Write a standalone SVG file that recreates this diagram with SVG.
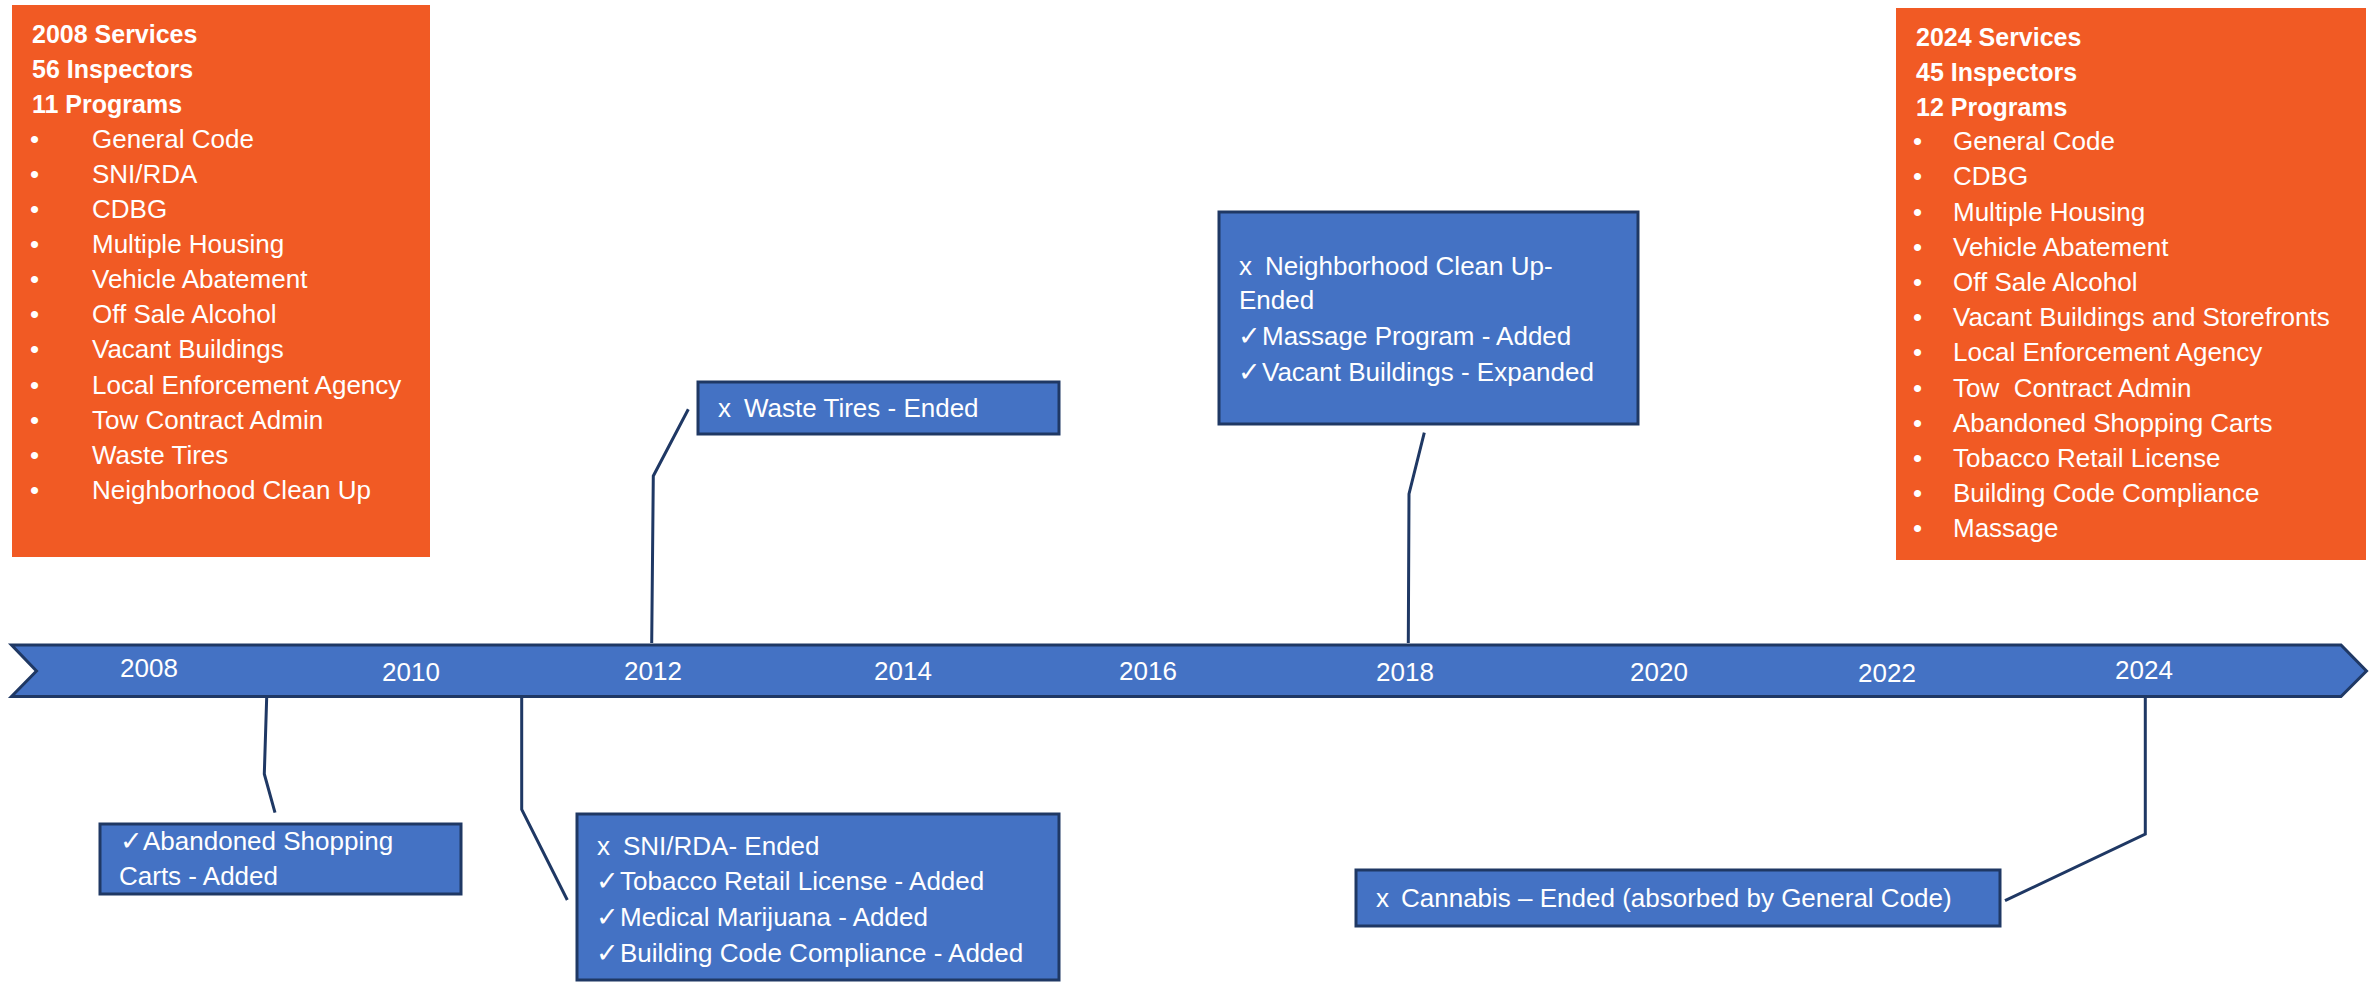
<svg xmlns="http://www.w3.org/2000/svg" width="2379" height="982" viewBox="0 0 2379 982">
  <style>
    .panel { fill: #F15A24; }
    .card { fill: #4472C4; stroke: #1F3864; stroke-width: 3; }
    .band { fill: #4472C4; stroke: #1F3864; stroke-width: 3; stroke-linejoin: miter; }
    .link { fill: none; stroke: #1F3864; stroke-width: 3; stroke-linejoin: miter; }
    text { font-family: "Liberation Sans", "DejaVu Sans", sans-serif; font-size: 26px; fill: #FFFFFF; }
    .head { font-weight: bold; font-size: 25px; }
    .year { text-anchor: middle; }
    .tick { font-size: 27px; }
  </style>

  <rect width="2379" height="982" fill="#FFFFFF"/>

  <!-- 2008 summary panel -->
  <g id="services-2008">
    <rect class="panel" x="12" y="5" width="418" height="552"/>
    <text class="head" x="32" y="43">2008 Services</text>
    <text class="head" x="32" y="78">56 Inspectors</text>
    <text class="head" x="32" y="113">11 Programs</text>
    <text x="30" y="148">•</text><text x="92" y="148">General Code</text>
    <text x="30" y="183">•</text><text x="92" y="183">SNI/RDA</text>
    <text x="30" y="218">•</text><text x="92" y="218">CDBG</text>
    <text x="30" y="253">•</text><text x="92" y="253">Multiple Housing</text>
    <text x="30" y="288">•</text><text x="92" y="288">Vehicle Abatement</text>
    <text x="30" y="323">•</text><text x="92" y="323">Off Sale Alcohol</text>
    <text x="30" y="358">•</text><text x="92" y="358">Vacant Buildings</text>
    <text x="30" y="394">•</text><text x="92" y="394">Local Enforcement Agency</text>
    <text x="30" y="429">•</text><text x="92" y="429">Tow Contract Admin</text>
    <text x="30" y="464">•</text><text x="92" y="464">Waste Tires</text>
    <text x="30" y="499">•</text><text x="92" y="499">Neighborhood Clean Up</text>
  </g>

  <!-- 2024 summary panel -->
  <g id="services-2024">
    <rect class="panel" x="1896" y="8" width="470" height="552"/>
    <text class="head" x="1916" y="46">2024 Services</text>
    <text class="head" x="1916" y="81">45 Inspectors</text>
    <text class="head" x="1916" y="116">12 Programs</text>
    <text x="1913" y="150">•</text><text x="1953" y="150">General Code</text>
    <text x="1913" y="185">•</text><text x="1953" y="185">CDBG</text>
    <text x="1913" y="221">•</text><text x="1953" y="221">Multiple Housing</text>
    <text x="1913" y="256">•</text><text x="1953" y="256">Vehicle Abatement</text>
    <text x="1913" y="291">•</text><text x="1953" y="291">Off Sale Alcohol</text>
    <text x="1913" y="326">•</text><text x="1953" y="326">Vacant Buildings and Storefronts</text>
    <text x="1913" y="361">•</text><text x="1953" y="361">Local Enforcement Agency</text>
    <text x="1913" y="397">•</text><text x="1953" y="397" xml:space="preserve">Tow  Contract Admin</text>
    <text x="1913" y="432">•</text><text x="1953" y="432">Abandoned Shopping Carts</text>
    <text x="1913" y="467">•</text><text x="1953" y="467">Tobacco Retail License</text>
    <text x="1913" y="502">•</text><text x="1953" y="502">Building Code Compliance</text>
    <text x="1913" y="537">•</text><text x="1953" y="537">Massage</text>
  </g>

  <!-- timeline band -->
  <g id="timeline">
    <polygon class="band" points="11.5,645 2341,645 2366.5,671 2341,696.5 11.5,696.5 36.5,671"/>
    <text class="year" x="149" y="677">2008</text>
    <text class="year" x="411" y="681">2010</text>
    <text class="year" x="653" y="680">2012</text>
    <text class="year" x="903" y="680">2014</text>
    <text class="year" x="1148" y="680">2016</text>
    <text class="year" x="1405" y="681">2018</text>
    <text class="year" x="1659" y="681">2020</text>
    <text class="year" x="1887" y="682">2022</text>
    <text class="year" x="2144" y="679">2024</text>
  </g>

  <!-- leader lines from the band to the event cards -->
  <g id="connectors">
    <polyline class="link" points="266.7,697 264.3,774 275,812.7"/>
    <polyline class="link" points="521.7,697 521.7,809.3 567.3,900"/>
    <polyline class="link" points="651.7,643 653.3,476 688.3,409.3"/>
    <polyline class="link" points="1408.3,643 1409,494 1424.3,432.7"/>
    <polyline class="link" points="2145.3,698 2145.3,834 2005,900.7"/>
  </g>

  <g id="event-2009">
    <rect class="card" x="100" y="824" width="361" height="70"/>
    <text class="tick" x="120" y="850">✓</text><text x="143" y="850">Abandoned Shopping</text>
    <text x="119" y="885">Carts - Added</text>
  </g>

  <g id="event-2011">
    <rect class="card" x="577" y="814" width="482" height="166"/>
    <text x="597" y="855">x</text><text x="623" y="855">SNI/RDA- Ended</text>
    <text class="tick" x="596" y="890">✓</text><text x="620" y="890">Tobacco Retail License - Added</text>
    <text class="tick" x="596" y="926">✓</text><text x="620" y="926">Medical Marijuana - Added</text>
    <text class="tick" x="596" y="962">✓</text><text x="620" y="962">Building Code Compliance - Added</text>
  </g>

  <g id="event-2012">
    <rect class="card" x="698" y="382" width="361" height="52"/>
    <text x="718" y="417">x</text><text x="744" y="417">Waste Tires - Ended</text>
  </g>

  <g id="event-2018">
    <rect class="card" x="1219" y="212" width="419" height="212"/>
    <text x="1239" y="275">x</text><text x="1265" y="275">Neighborhood Clean Up-</text>
    <text x="1239" y="309">Ended</text>
    <text class="tick" x="1238" y="345">✓</text><text x="1262" y="345">Massage Program - Added</text>
    <text class="tick" x="1238" y="381">✓</text><text x="1262" y="381">Vacant Buildings - Expanded</text>
  </g>

  <g id="event-2024">
    <rect class="card" x="1356" y="870" width="644" height="56"/>
    <text x="1376" y="907">x</text><text x="1401" y="907">Cannabis – Ended (absorbed by General Code)</text>
  </g>
</svg>
